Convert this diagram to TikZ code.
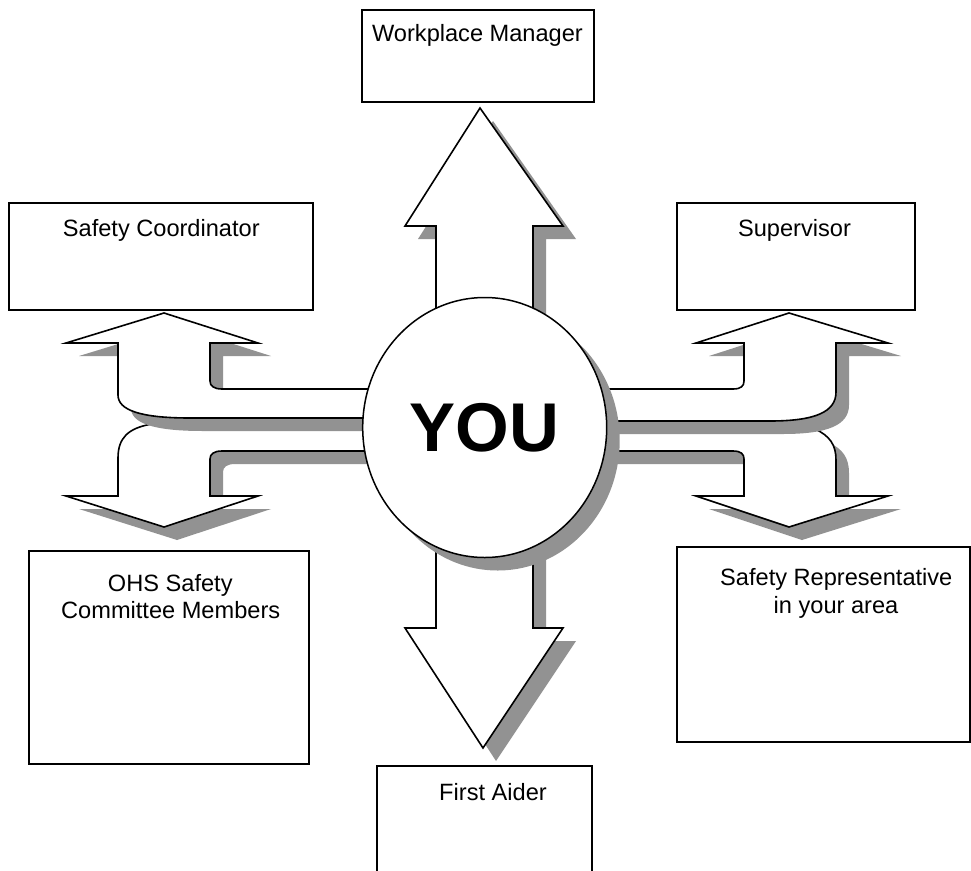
\documentclass[tikz,border=0pt]{standalone}
\usepackage{fontspec}
\setmainfont{Liberation Sans}
\usetikzlibrary{shapes.geometric}
\definecolor{shadowgray}{RGB}{146,146,146}
\begin{document}
\begin{tikzpicture}[x=1pt,y=-1pt,
  box/.style={draw, line width=2pt, fill=white, inner sep=0pt, outer sep=0pt, anchor=north west},
  lbl/.style={font=\fontsize{23.6}{28}\selectfont, anchor=base, inner sep=0pt},
  arrowshape/.style={draw, line width=1.6pt, fill=white, line join=miter,
    preaction={fill=shadowgray, draw=none, transform canvas={shift={(13,13)}}}},
]
\useasboundingbox (0,0) rectangle (971,870);
\clip (0,0) rectangle (971,870);

% vertical arrows
\path[arrowshape] (436,360) -- (436,226) -- (405,226) -- (480,108) -- (563,226) -- (533,226) -- (533,360) -- cycle;
\path[arrowshape] (436,500) -- (436,628) -- (405,628) -- (483,748) -- (563,628) -- (533,628) -- (533,500) -- cycle;

% left double arrow (lower part first)
\path[arrowshape] (400,424) -- (152,424) .. controls (128,428) and (118,438) .. (118,458) -- (118,496) -- (66,496) -- (164,527) -- (258,496) -- (210,496) -- (210,459) .. controls (210,454) and (214,451) .. (222,451) -- (400,451) -- cycle;
\path[arrowshape] (400,389) -- (222,389) .. controls (214,389) and (210,386) .. (210,381) -- (210,343) -- (258,343) -- (164,313) -- (66,343) -- (118,343) -- (118,395) .. controls (118,410) and (140,418) .. (190,418) -- (400,418) -- cycle;

% right double arrow (lower part first)
\path[arrowshape] (570,429) -- (815,429) .. controls (830,436) and (836,445) .. (836,460) -- (836,496) -- (888,496) -- (789,527) -- (696,496) -- (744,496) -- (744,459) .. controls (744,454) and (741,451) .. (733,451) -- (570,451) -- cycle;
\path[arrowshape] (570,389) -- (733,389) .. controls (741,389) and (744,386) .. (744,381) -- (744,343) -- (696,343) -- (789,313) -- (888,343) -- (836,343) -- (836,392) .. controls (836,412) and (815,421) .. (770,421) -- (570,421) -- cycle;

% central circle
\fill[shadowgray] (497.7,440.5) ellipse [x radius=122, y radius=130];
\node[ellipse, draw, line width=1.5pt, fill=white, minimum width=244pt, minimum height=260pt, inner sep=0pt,
  font=\fontsize{69}{69}\selectfont\bfseries] (you) at (484.7,427.5) {YOU};

% boxes
\node[box, minimum width=232pt, minimum height=92pt] (wm) at (362,10) {};
\node[box, minimum width=304pt, minimum height=107pt] (sc) at (9.3,203.3) {};
\node[box, minimum width=238pt, minimum height=107pt] (sup) at (677.3,203.3) {};
\node[box, minimum width=280pt, minimum height=213pt] (ohs) at (29.3,550.7) {};
\node[box, minimum width=293pt, minimum height=195pt] (rep) at (676.7,546.7) {};
\node[box, minimum width=215pt, minimum height=130pt] (fa) at (376.7,766) {};

% labels
\node[lbl] (wmt) at (477.5,41.7) {Workplace Manager};
\node[lbl] (sct) at (161.3,236.7) {Safety Coordinator};
\node[lbl] (supt) at (794.5,236.7) {Supervisor};
\node[lbl] (ohst1) at (170.3,591.7) {OHS Safety};
\node[lbl] (ohst2) at (170.7,618.3) {Committee Members};
\node[lbl] (rept1) at (836.3,585) {Safety Representative};
\node[lbl] (rept2) at (836,613.3) {in your area};
\node[lbl] (fat) at (493,800) {First Aider};
\end{tikzpicture}
\end{document}
